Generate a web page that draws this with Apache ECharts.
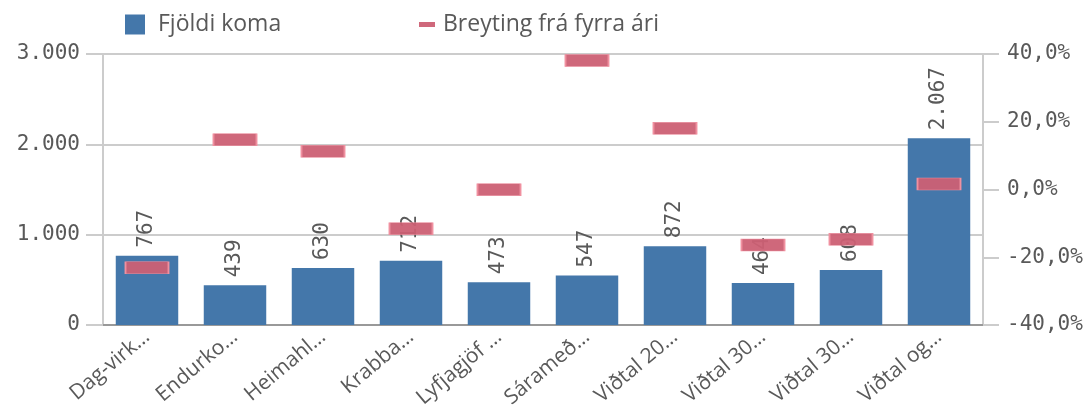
<!DOCTYPE html>
<html><head><meta charset="utf-8">
<script src="https://cdn.jsdelivr.net/npm/echarts@6/dist/echarts.min.js"></script>
<style>html,body{margin:0;padding:0;background:#fff}#c{width:1088px;height:415px}</style>
</head><body><div id="c"></div>
<script>
var categories = ["Dag-virk…","Endurko…","Heimahl…","Krabba…","Lyfjagjöf …","Sárameð…","Viðtal 20…","Viðtal 30…","Viðtal 30…","Viðtal og…"];
var fjoldiKoma = [767, 439, 630, 712, 473, 547, 872, 464, 608, 2067];
var breyting = [-23.1, 14.7, 11.3, -11.6, -0.1, 38.1, 18.1, -16.4, -14.7, 1.6];
var leftTicks = [0, 1000, 2000, 3000];
var rightTicks = [-40, -20, 0, 20, 40];

var gray = '#595959';
var mono = '"DejaVu Sans Mono", monospace';
var sans = '"Open Sans", sans-serif';
function thou(v){ return v.toString().replace(/\B(?=(\d{3})+(?!\d))/g, '.'); }
var chart = echarts.init(document.getElementById('c'));
chart.setOption({
  animation: false,
  grid: {left: 103, right: 105, top: 54, bottom: 90, containLabel: false},
  legend: [
    {left: 120, top: 8, itemWidth: 20, itemHeight: 20, icon: 'rect', data: ['Fjöldi koma'],
     textStyle: {fontFamily: sans, fontSize: 23, color: gray, padding: [0,0,0,8]}},
    {left: 414, top: 8, itemWidth: 16, itemHeight: 5, icon: 'rect', data: ['Breyting frá fyrra ári'],
     itemStyle: {borderWidth: 0},
     textStyle: {fontFamily: sans, fontSize: 23, color: gray, padding: [0,0,0,3]}}
  ],
  xAxis: {
    type: 'category', data: categories,
    axisLine: {lineStyle: {color: '#999', width: 2}},
    axisTick: {show: false},
    axisLabel: {rotate: 40, fontFamily: sans, fontSize: 21, color: gray, margin: 9, interval: 0}
  },
  yAxis: [
    {type: 'value', min: leftTicks[0], max: leftTicks[leftTicks.length-1], interval: 1000,
     axisLine: {show: true, lineStyle: {color: '#ccc', width: 2}},
     axisTick: {show: true, length: 17, lineStyle: {color: '#ccc', width: 2}},
     splitLine: {lineStyle: {color: '#ccc', width: 2}},
     axisLabel: {fontFamily: mono, fontSize: 21, color: gray, margin: 23, formatter: thou}},
    {type: 'value', min: rightTicks[0], max: rightTicks[rightTicks.length-1], interval: 20, position: 'right',
     axisLine: {show: true, lineStyle: {color: '#ccc', width: 2}},
     axisTick: {show: true, length: 16, lineStyle: {color: '#ccc', width: 2}},
     splitLine: {show: false},
     axisLabel: {fontFamily: mono, fontSize: 21, color: gray, margin: 24,
       formatter: function(v){ return v.toFixed(1).replace('.', ',') + '%'; }}}
  ],
  series: [
    {name: 'Fjöldi koma', type: 'bar', data: fjoldiKoma, barCategoryGap: '29%', yAxisIndex: 0,
     itemStyle: {color: '#4477aa'},
     label: {show: true, position: 'top', rotate: 90, align: 'left', verticalAlign: 'middle', distance: 8,
       fontFamily: mono, fontSize: 21, color: gray,
       formatter: function(p){ return thou(p.value); }}},
    {name: 'Breyting frá fyrra ári', type: 'scatter', data: breyting, yAxisIndex: 1,
     symbol: 'rect', symbolSize: [43, 12], z: 5,
     itemStyle: {color: 'rgba(204,96,116,0.95)', borderColor: '#f0909f', borderWidth: 1, opacity: 1}}
  ]
});
</script></body></html>
